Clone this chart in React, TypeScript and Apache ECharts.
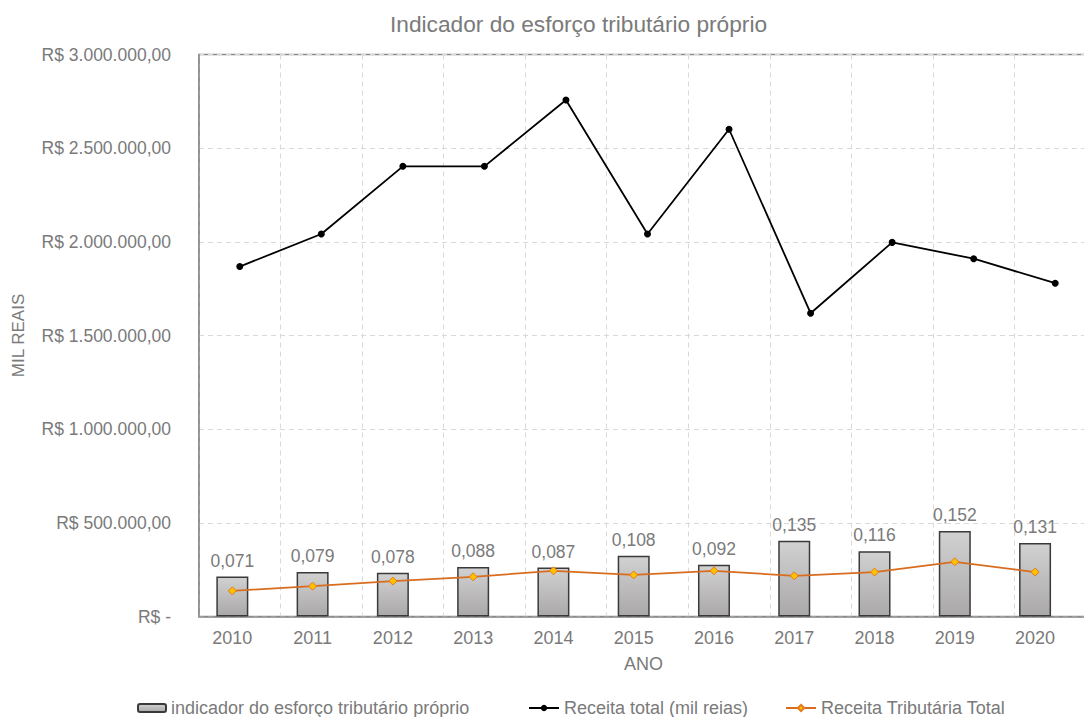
import React, { useEffect, useRef } from "react";
import * as echarts from "echarts";

const years = ["2010", "2011", "2012", "2013", "2014", "2015", "2016", "2017", "2018", "2019", "2020"];
const indicador = [0.071, 0.079, 0.078, 0.088, 0.087, 0.108, 0.092, 0.135, 0.116, 0.152, 0.131];
const receitaTotal = [1868000, 2042000, 2403000, 2403000, 2757000, 2042000, 2601000, 1619000, 1997000, 1910000, 1779000];
const receitaTributaria = [137000, 162000, 189000, 212000, 244000, 222000, 244000, 217000, 237000, 292000, 237000];
const yTicks = [0, 500000, 1000000, 1500000, 2000000, 2500000, 3000000];

const TEXT = "#7a7a7a";
const FONT = "'Liberation Sans', Arial, sans-serif";

function fmtBRL(v: number): string {
  if (v === 0) return "R$ -";
  const int = Math.round(v).toString().replace(/\B(?=(\d{3})+(?!\d))/g, ".");
  return "R$ " + int + ",00";
}

export default function App() {
  const ref = useRef<HTMLDivElement>(null);
  useEffect(() => {
    if (!ref.current) return;
    const chart = echarts.init(ref.current, undefined, { renderer: "svg" });
    const barGradient = new echarts.graphic.LinearGradient(0, 0, 0, 1, [
      { offset: 0, color: "#d2d1d1" },
      { offset: 1, color: "#aaa8a8" },
    ]);
    const legendText = { color: TEXT, fontSize: 18, fontFamily: FONT };
    const split = { show: true, lineStyle: { color: "#d9d9d9", type: [5, 4], width: 1 } };
    chart.setOption({
      animation: false,
      textStyle: { fontFamily: FONT },
      title: {
        text: "Indicador do esforço tributário próprio",
        left: 385,
        top: 7,
        textStyle: { color: TEXT, fontSize: 22.7, fontWeight: "normal", fontFamily: FONT },
      },
      grid: [
        {
          left: 192.2,
          top: 54.5,
          width: 883,
          height: 562,
          show: false,
          outerBoundsMode: "none",
          containLabel: false,
        },
        {
          left: 199,
          top: 54.5,
          width: 897,
          height: 562,
          show: true,
          borderColor: "#8a8a8a",
          borderWidth: 1.5,
          outerBoundsMode: "none",
          containLabel: false,
        },
      ],
      legend: [
        {
          data: ["indicador do esforço tributário próprio"],
          left: 132,
          top: 694,
          itemWidth: 28,
          itemHeight: 8,
          textStyle: legendText,
        },
        {
          data: ["Receita total (mil reias)"],
          left: 523,
          top: 694,
          itemWidth: 30,
          itemHeight: 8,
          textStyle: legendText,
        },
        {
          data: ["Receita Tributária Total"],
          left: 780,
          top: 694,
          itemWidth: 30,
          itemHeight: 8,
          textStyle: legendText,
        },
      ],
      xAxis: [
        {
          type: "category",
          gridIndex: 0,
          data: years,
          boundaryGap: true,
          axisLine: { show: false },
          axisTick: { show: false },
          axisLabel: { color: TEXT, fontSize: 18, margin: 12, fontFamily: FONT },
          splitLine: { show: false },
        },
        {
          type: "category",
          gridIndex: 1,
          data: years,
          boundaryGap: true,
          name: "ANO",
          nameLocation: "middle",
          nameGap: 38,
          nameTextStyle: { color: TEXT, fontSize: 18, fontFamily: FONT, padding: [0, 8, 0, 0] },
          axisLine: { lineStyle: { color: "#8a8a8a", width: 1.5 } },
          axisTick: { show: false },
          axisLabel: { show: false },
          splitLine: split,
        },
      ],
      yAxis: [
        {
          type: "value",
          gridIndex: 1,
          min: 0,
          max: 3000000,
          interval: 500000,
          name: "MIL REAIS",
          nameLocation: "middle",
          nameGap: 172,
          nameRotate: 90,
          nameTextStyle: { color: TEXT, fontSize: 17, fontFamily: FONT },
          axisLine: { show: true, lineStyle: { color: "#8a8a8a", width: 1.5 } },
          axisTick: { show: false },
          axisLabel: {
            color: TEXT,
            fontSize: 17.5,
            margin: 28,
            fontFamily: FONT,
            formatter: (v: number) => (yTicks.includes(v) ? fmtBRL(v) : ""),
          },
          splitLine: split,
        },
        {
          type: "value",
          gridIndex: 0,
          min: 0,
          max: 1,
          show: false,
          splitLine: { show: false },
        },
        {
          type: "value",
          gridIndex: 0,
          min: 0,
          max: 3000000,
          show: false,
          splitLine: { show: false },
        },
      ],
      series: [
        {
          name: "indicador do esforço tributário próprio",
          type: "bar",
          xAxisIndex: 0,
          yAxisIndex: 1,
          data: indicador,
          barWidth: 32,
          itemStyle: { color: barGradient, borderColor: "#3a3a3a", borderWidth: 1.5 },
          label: {
            show: true,
            position: "top",
            distance: 7,
            color: TEXT,
            fontSize: 17.5,
            fontFamily: FONT,
            formatter: (p: any) => p.value.toFixed(3).replace(".", ","),
          },
          z: 2,
        },
        {
          name: "Receita total (mil reias)",
          type: "line",
          xAxisIndex: 1,
          yAxisIndex: 0,
          data: receitaTotal,
          symbol: "circle",
          symbolSize: 7,
          lineStyle: { color: "#000000", width: 1.8 },
          itemStyle: { color: "#000000" },
          z: 4,
        },
        {
          name: "Receita Tributária Total",
          type: "line",
          xAxisIndex: 0,
          yAxisIndex: 2,
          data: receitaTributaria,
          symbol: "diamond",
          symbolSize: 8,
          lineStyle: { color: "#d86d1f", width: 1.8 },
          itemStyle: { color: "#ffc000", borderColor: "#e07b20", borderWidth: 1 },
          z: 4,
        },
      ],
    });
    return () => chart.dispose();
  }, []);
  return (
    <div
      ref={ref}
      style={{ position: "fixed", left: 0, top: 0, width: 1084, height: 717, background: "#fff" }}
    />
  );
}
